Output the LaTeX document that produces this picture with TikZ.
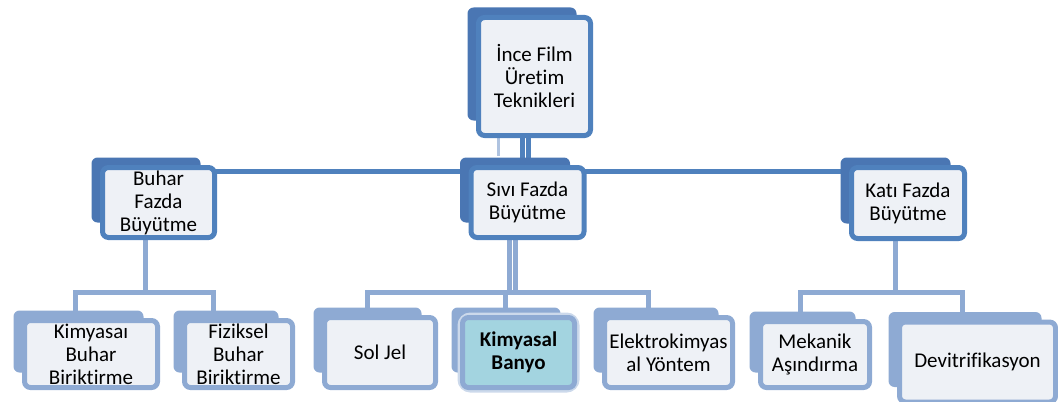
\documentclass[tikz,border=0pt]{standalone}
\usepackage{fontspec}
\setmainfont{Carlito}[Ligatures=NoCommon]
\definecolor{koyumavi}{HTML}{4F81BD}
\definecolor{koyuarka}{HTML}{4A76B3}
\definecolor{acikmavi}{HTML}{8EAAD3}
\definecolor{solukmavi}{HTML}{AFC3E0}
\definecolor{kutuici}{HTML}{EEF1F6}
\definecolor{banyorenk}{HTML}{A3D4E0}
\pgfdeclarelayer{baglar}
\pgfdeclarelayer{arka}
\pgfsetlayers{baglar,arka,main}
\tikzset{
    kutu/.style={draw, line width=2.5pt, rounded corners=3pt, fill=kutuici, align=center,
        inner sep=0pt, outer sep=0pt, font=\fontsize{10.5}{11.5}\selectfont},
    ust/.style={kutu, draw=koyumavi},
    alt/.style={kutu, draw=acikmavi},
    boyut/.style 2 args={minimum width=#1*0.5pt, minimum height=#2*0.5pt},
    koyu/.style={draw=koyumavi, line width=2.5pt},
    acik/.style={draw=acikmavi, line width=2.5pt},
    soluk/.style={draw=solukmavi, line width=1.5pt}
}
\begin{document}
\begin{tikzpicture}[x=0.5pt,y=-0.5pt]
\useasboundingbox (0,0) rectangle (1058,401);

% ust seviye
\node[ust, boyut={112}{118}] (ince) at (534.5,76.5) {İnce Film\\Üretim\\Teknikleri};

\node[ust, boyut={112}{70}] (buhar) at (158.5,202.5) {Buhar\\Fazda\\Büyütme};
\node[ust, boyut={113}{70}] (sivi) at (527.5,202.5) {Sıvı Fazda\\Büyütme};
\node[ust, boyut={113}{71}] (kati) at (908,203) {Katı Fazda\\Büyütme};

% alt seviye
\node[alt, boyut={133}{67}] (kbb) at (91,354) {Kimyasaı\\Buhar\\Biriktirme};
\node[alt, boyut={108}{67}] (fbb) at (238.5,354) {Fiziksel\\Buhar\\Biriktirme};
\node[alt, boyut={111}{70}] (soljel) at (380,352.5) {Sol Jel};
\node[alt, boyut={112}{70}, fill=banyorenk, font=\fontsize{10.5}{11.5}\selectfont\bfseries] (banyo) at (518.5,352.5) {Kimyasal\\Banyo};
\node[alt, boyut={128}{70}] (elektro) at (668.5,352.5) {Elektrokimyas\\al Yöntem};
\node[alt, boyut={109}{66}] (mekanik) at (815,354.5) {Mekanik\\Aşındırma};
\node[alt, boyut={156}{80}] (devit) at (977.5,362) {Devitrifikasyon};

\begin{pgfonlayer}{arka}
\foreach \n in {ince,buhar,sivi,kati}
    \fill[koyuarka, rounded corners=3pt] ([shift={(-11,-10)}]\n.north west) rectangle ([shift={(-14,-15)}]\n.south east);
\foreach \n in {kbb,fbb,soljel,banyo,elektro,mekanik,devit}
    \fill[acikmavi, rounded corners=3pt] ([shift={(-11,-10)}]\n.north west) rectangle ([shift={(-14,-15)}]\n.south east);
\draw[acikmavi!45, line width=5pt, rounded corners=4pt] (banyo.north west) rectangle (banyo.south east);
\end{pgfonlayer}

\begin{pgfonlayer}{baglar}
\draw[koyu] ([shift={(0,3.5)}]buhar.north east) -- ([shift={(0,3.5)}]kati.north west);
\draw[koyu] ([shift={(-12,0)}]ince.south) -- ++(0,22);
\draw[koyu] ([shift={(-6,0)}]ince.south) -- ++(0,22);
\draw[soluk] ([shift={(-36,0)}]ince.south) -- ++(0,20);

\draw[acik] ([shift={(-13.5,0)}]buhar.south) -- ++(0,55);
\draw[acik] ([shift={(-16,-10)}]kbb.north) -- ++(0,-18) -| ([shift={(-25.5,-10)}]fbb.north);

\draw[acik] ([shift={(-18,0)}]sivi.south) -- ++(0,55);
\draw[acik] ([shift={(-12,0)}]sivi.south) -- ++(0,55);
\draw[acik] ([shift={(-13,-8)}]soljel.north) -- ++(0,-17) -| ([shift={(-20.5,-8)}]elektro.north);
\draw[acik] ([shift={(-13.5,-8)}]banyo.north) -- ++(0,-17);

\draw[acik] ([shift={(-13,0)}]kati.south) -- ++(0,54);
\draw[acik] ([shift={(-15,-10)}]mekanik.north) -- ++(0,-19) -| ([shift={(-15.5,-10)}]devit.north);
\end{pgfonlayer}
\end{tikzpicture}
\end{document}
